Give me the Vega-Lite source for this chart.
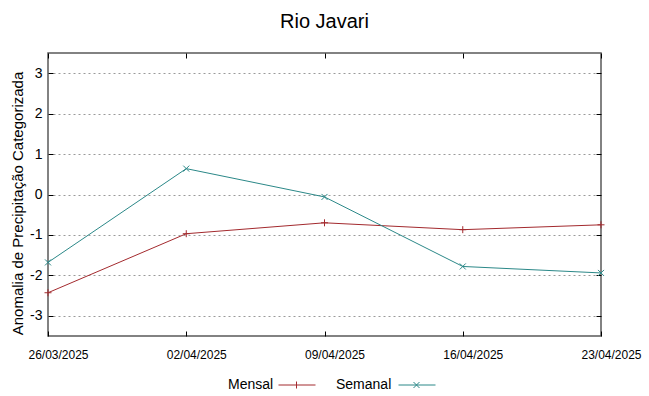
{
  "$schema": "https://vega.github.io/schema/vega-lite/v6.json",
  "width": 553,
  "height": 283,
  "autosize": {"type": "none"},
  "padding": {"left": 48, "top": 53, "right": 48, "bottom": 60},
  "title": {"text": "Rio Javari", "fontSize": 20, "font": "Liberation Sans", "fontWeight": "normal", "color": "#000", "anchor": "middle", "frame": "group", "offset": 26, "baseline": "alphabetic", "dy": 21},
  "data": {
    "values": [
      {"date": "26/03/2025", "series": "Mensal", "value": -2.43},
      {"date": "02/04/2025", "series": "Mensal", "value": -0.97},
      {"date": "09/04/2025", "series": "Mensal", "value": -0.70},
      {"date": "16/04/2025", "series": "Mensal", "value": -0.87},
      {"date": "23/04/2025", "series": "Mensal", "value": -0.75},
      {"date": "26/03/2025", "series": "Semanal", "value": -1.68},
      {"date": "02/04/2025", "series": "Semanal", "value": 0.64},
      {"date": "09/04/2025", "series": "Semanal", "value": -0.06},
      {"date": "16/04/2025", "series": "Semanal", "value": -1.78},
      {"date": "23/04/2025", "series": "Semanal", "value": -1.94}
    ]
  },
  "config": {
    "view": {"stroke": "#5a5a5a", "strokeWidth": 1.5},
    "font": "Liberation Sans",
    "axis": {"domain": false, "tickColor": "#000", "tickSize": -5, "tickWidth": 1, "labelFont": "Liberation Sans", "labelColor": "#000", "titleFont": "Liberation Sans", "titleColor": "#000", "titleFontWeight": "normal"}
  },
  "encoding": {
    "x": {"field": "date", "type": "ordinal", "sort": null, "scale": {"type": "point", "padding": 0}, "axis": null},
    "y": {"field": "value", "type": "quantitative", "scale": {"domain": [-3.5, 3.5], "nice": false, "zero": false}, "axis": null}
  },
  "layer": [
    {
      "mark": {"type": "line", "strokeWidth": 1},
      "encoding": {
        "x": {"field": "date", "type": "ordinal", "sort": null, "scale": {"type": "point", "padding": 0},
          "axis": {"orient": "bottom", "title": null, "grid": false, "labelFontSize": 12, "labelPadding": 18, "labelOffset": 10, "labelFlush": false, "labelOverlap": false, "labelAngle": 0, "tickSize": -5}},
        "y": {"field": "value", "type": "quantitative", "scale": {"domain": [-3.5, 3.5], "nice": false, "zero": false},
          "axis": {"orient": "left", "title": "Anomalia de Precipitação Categorizada", "titleFontSize": 15, "titlePadding": 4, "titleY": 150, "values": [-3, -2, -1, 0, 1, 2, 3], "labelExpr": "'' + datum.value", "labelFontSize": 14, "labelPadding": 11, "grid": true, "gridDash": [2, 3], "gridColor": "#9a9a9a", "gridWidth": 1}},
        "color": {"field": "series", "type": "nominal", "scale": {"domain": ["Mensal", "Semanal"], "range": ["#a32a2e", "#2b8888"]},
          "legend": {"orient": "none", "legendX": 162, "legendY": 325, "direction": "horizontal", "title": null, "labelFontSize": 14, "labelColor": "#000", "padding": 0, "symbolSize": 100, "symbolStrokeWidth": 1, "columnPadding": -11,
            "encode": {"symbols": {"update": {"shape": {"signal": "datum.value === 'Mensal' ? 'M12.3,0H19.7M15.9,-0.7V0.7' : 'M14.7,0H22.1M17.7,-0.6L18.9,0.6M17.7,0.6L18.9,-0.6'"}}}}}}
      }
    },
    {
      "transform": [{"filter": "datum.series === 'Mensal'"}],
      "mark": {"type": "point", "shape": "M-1,0H1M0,-1V1", "size": 49, "strokeWidth": 1, "opacity": 1},
      "encoding": {"color": {"field": "series", "type": "nominal", "legend": null}}
    },
    {
      "transform": [{"filter": "datum.series === 'Semanal'"}],
      "mark": {"type": "point", "shape": "M-1,-1L1,1M-1,1L1,-1", "size": 36, "strokeWidth": 1, "opacity": 1},
      "encoding": {"color": {"field": "series", "type": "nominal", "legend": null}}
    },
    {
      "transform": [{"filter": "false"}],
      "mark": {"type": "point", "opacity": 0},
      "encoding": {
        "x": {"field": "date", "type": "ordinal", "sort": null, "scale": {"type": "point", "padding": 0},
          "axis": {"orient": "top", "title": null, "labels": false, "grid": false, "tickSize": -5}},
        "y": {"field": "value", "type": "quantitative", "scale": {"domain": [-3.5, 3.5], "nice": false, "zero": false},
          "axis": {"orient": "right", "title": null, "labels": false, "grid": false, "values": [-3, -2, -1, 0, 1, 2, 3], "tickSize": -5}}
      }
    }
  ],
  "resolve": {"axis": {"x": "independent", "y": "independent"}}
}
